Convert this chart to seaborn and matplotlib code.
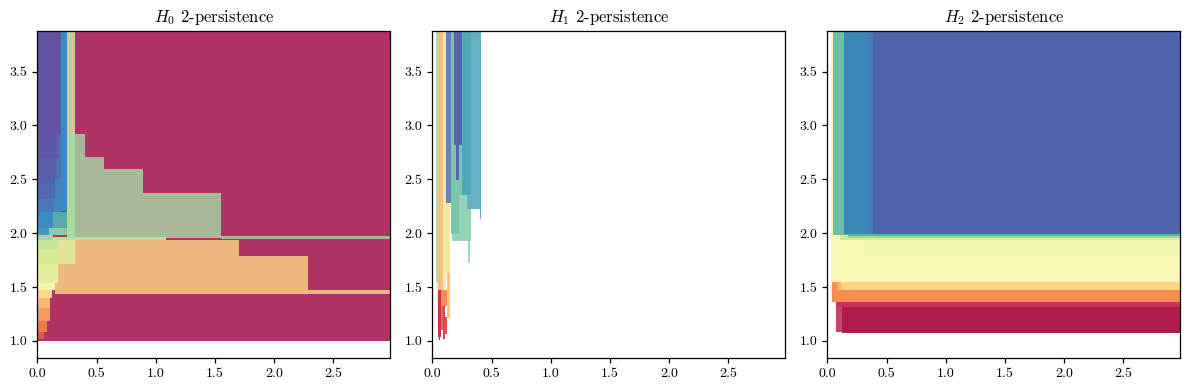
import numpy as np
import matplotlib
matplotlib.use("Agg")
import matplotlib.pyplot as plt
import seaborn as sns

# ---------------- data ----------------
titles = [r"$H_0$ 2-persistence", r"$H_1$ 2-persistence", r"$H_2$ 2-persistence"]
x_ticks = [0.0, 0.5, 1.0, 1.5, 2.0, 2.5]
y_ticks = [1.0, 1.5, 2.0, 2.5, 3.0, 3.5]
X_END = 3.0   # "infinite" death along x (clipped by the axes)
Y_END = 3.9   # "infinite" death along y

# rectangles of each module approximation: (x0, x1, y0, y1, colour), drawn in order
h0_rects = [
    (0.045, X_END, 1.000, Y_END, "#b03366"),
    (0.251, 0.318, 2.930, Y_END, "#d0c890"),
    (0.200, 0.251, 2.210, Y_END, "#3a89c0"),
    (0.000, 0.200, 2.920, Y_END, "#6353a3"),
    (0.000, 0.170, 2.700, 2.920, "#5f57a6"),
    (0.170, 0.200, 2.700, 2.920, "#5a66ad"),
    (0.000, 0.160, 2.500, 2.700, "#5a5fa8"),
    (0.160, 0.200, 2.500, 2.700, "#4f72b2"),
    (0.000, 0.150, 2.320, 2.500, "#5068ae"),
    (0.150, 0.200, 2.320, 2.500, "#4581b9"),
    (0.000, 0.140, 2.200, 2.320, "#4a78b4"),
    (0.140, 0.200, 2.200, 2.320, "#3f88bd"),
    (0.000, 0.130, 2.050, 2.200, "#3b8cc0"),
    (0.130, 0.250, 2.050, 2.200, "#5aa8ac"),
    (0.000, 0.100, 1.980, 2.050, "#4799b8"),
    (0.100, 0.250, 1.980, 2.050, "#8ac8a8"),
    (0.251, 0.318, 1.955, 2.930, "#a9d8a0"),
    (0.318, 0.400, 1.955, 2.918, "#a8b998"),
    (0.400, 0.563, 1.955, 2.710, "#a8b998"),
    (0.563, 0.890, 1.955, 2.595, "#a8b998"),
    (0.890, 1.548, 1.955, 2.372, "#a8b998"),
    (1.548, X_END, 1.945, 1.976, "#a8b998"),
    (0.130, 1.084, 1.936, 1.960, "#bcdca0"),
    (0.000, 0.130, 1.930, 1.980, "#a2d6a0"),
    (0.000, 0.177, 1.850, 1.936, "#c6e59c"),
    (0.000, 0.177, 1.710, 1.850, "#d6ea98"),
    (0.000, 0.177, 1.540, 1.710, "#e4ef9c"),
    (0.000, 0.150, 1.470, 1.540, "#f5f4b2"),
    (0.000, 0.125, 1.400, 1.470, "#fbd98a"),
    (0.000, 0.105, 1.300, 1.400, "#f9b877"),
    (0.000, 0.105, 1.180, 1.300, "#f59a65"),
    (0.000, 0.080, 1.080, 1.180, "#ee7a52"),
    (0.000, 0.060, 1.020, 1.080, "#e05a4c"),
    (0.000, 0.045, 1.000, 1.020, "#c83050"),
    (0.177, 0.318, 1.709, 1.936, "#dfe49a"),
    (0.318, 1.703, 1.434, 1.936, "#edb87f"),
    (0.177, 0.318, 1.434, 1.709, "#edb87f"),
    (0.150, 0.177, 1.434, 1.536, "#edb87f"),
    (1.703, 2.283, 1.434, 1.787, "#edb87f"),
    (2.283, X_END, 1.434, 1.471, "#edb87f"),
]

h1_rects = [
    (0.031, 0.048, 1.548, Y_END, "#b9dba2"),
    (0.036, 0.048, 1.360, 1.548, "#f5e6a0"),
    (0.048, 0.065, 1.470, Y_END, "#e3c08f"),
    (0.065, 0.088, 1.470, Y_END, "#f6c07e"),
    (0.088, 0.116, 1.470, Y_END, "#f3eba0"),
    (0.116, 0.155, 2.280, Y_END, "#6b80b6"),
    (0.116, 0.149, 1.610, 2.280, "#f6e59c"),
    (0.124, 0.146, 1.210, 1.630, "#fdc476"),
    (0.155, 0.262, 1.990, Y_END, "#76c6a9"),
    (0.166, 0.327, 1.930, 1.990, "#93d5b6"),
    (0.225, 0.327, 1.990, 2.354, "#93d5b6"),
    (0.298, 0.315, 1.725, 1.930, "#9dd8bb"),
    (0.183, 0.251, 2.820, Y_END, "#5a62a8"),
    (0.200, 0.223, 2.490, 2.820, "#5a62a8"),
    (0.290, 0.411, 2.224, Y_END, "#67b0c5"),
    (0.403, 0.411, 2.130, 2.224, "#67b0c5"),
    (0.251, 0.327, 2.354, Y_END, "#4fa6b5"),
    (0.048, 0.076, 1.037, 1.470, "#c8344f"),
    (0.058, 0.068, 1.010, 1.037, "#b8284e"),
    (0.076, 0.124, 1.320, 1.470, "#f58d5a"),
    (0.076, 0.093, 1.100, 1.320, "#ec6a4c"),
    (0.093, 0.110, 1.020, 1.320, "#d8464f"),
    (0.110, 0.127, 1.065, 1.220, "#e05050"),
]

h2_rects = [
    (0.030, X_END, 1.360, Y_END, "#f8f8b3"),
    (0.050, 0.144, 1.985, Y_END, "#6cc0a8"),
    (0.144, 0.327, 1.985, Y_END, "#3b88b8"),
    (0.327, 0.383, 1.985, Y_END, "#3f7fb9"),
    (0.383, X_END, 1.985, Y_END, "#4f66ae"),
    (0.135, X_END, 1.970, 1.990, "#5cb3a8"),
    (0.175, X_END, 1.955, 1.970, "#9cd6a4"),
    (0.110, 0.175, 1.935, 1.985, "#cfeb9c"),
    (0.175, X_END, 1.935, 1.955, "#d5ed9f"),
    (0.330, X_END, 1.800, 1.935, "#f1f7ae"),
    (0.115, X_END, 1.471, 1.542, "#fdd581"),
    (0.040, 0.082, 1.471, 1.548, "#f58c5a"),
    (0.082, 0.115, 1.471, 1.542, "#fbb06c"),
    (0.040, X_END, 1.356, 1.471, "#f68b54"),
    (0.073, X_END, 1.316, 1.356, "#c7345a"),
    (0.073, 0.124, 1.080, 1.316, "#c1476c"),
    (0.124, X_END, 1.074, 1.316, "#ae1b4c"),
]

panels = [h0_rects, h1_rects, h2_rects]

# ---------------- style ----------------
sns.set_style("ticks", {"axes.edgecolor": "black", "xtick.color": "black",
                        "ytick.color": "black", "text.color": "black"})
plt.rcParams["font.family"] = ["serif"]
plt.rcParams["font.serif"] = ["cmr10", "DejaVu Serif"]
plt.rcParams["mathtext.fontset"] = "cm"
plt.rcParams["axes.formatter.use_mathtext"] = True
plt.rcParams["axes.unicode_minus"] = False

fig, axes = plt.subplots(1, 3, figsize=(11.89, 3.90), dpi=100)
fig.subplots_adjust(left=0.0314, right=0.9927, bottom=0.082, top=0.9213, wspace=0.119)

for ax, rects, title in zip(axes, panels, titles):
    x0 = np.array([r[0] for r in rects])
    x1 = np.array([r[1] for r in rects])
    y0 = np.array([r[2] for r in rects])
    y1 = np.array([r[3] for r in rects])
    cols = [r[4] for r in rects]
    for a, b, c, d, col in zip(x0, x1, y0, y1, cols):
        ax.bar(a, d - c, width=b - a, bottom=c, align="edge", color=col,
               linewidth=0, edgecolor="none")
    ax.set_xlim(0, 2.98)
    ax.set_ylim(0.84, 3.88)
    ax.set_xticks(x_ticks)
    ax.set_yticks(y_ticks)
    ax.set_xticklabels([f"{v:.1f}" for v in x_ticks], fontsize=10)
    ax.set_yticklabels([f"{v:.1f}" for v in y_ticks], fontsize=10)
    ax.set_title(title, fontsize=12)
    for s in ax.spines.values():
        s.set_linewidth(0.9)
    ax.tick_params(length=3.5, width=0.9)

fig.savefig("out.png", dpi=100)
